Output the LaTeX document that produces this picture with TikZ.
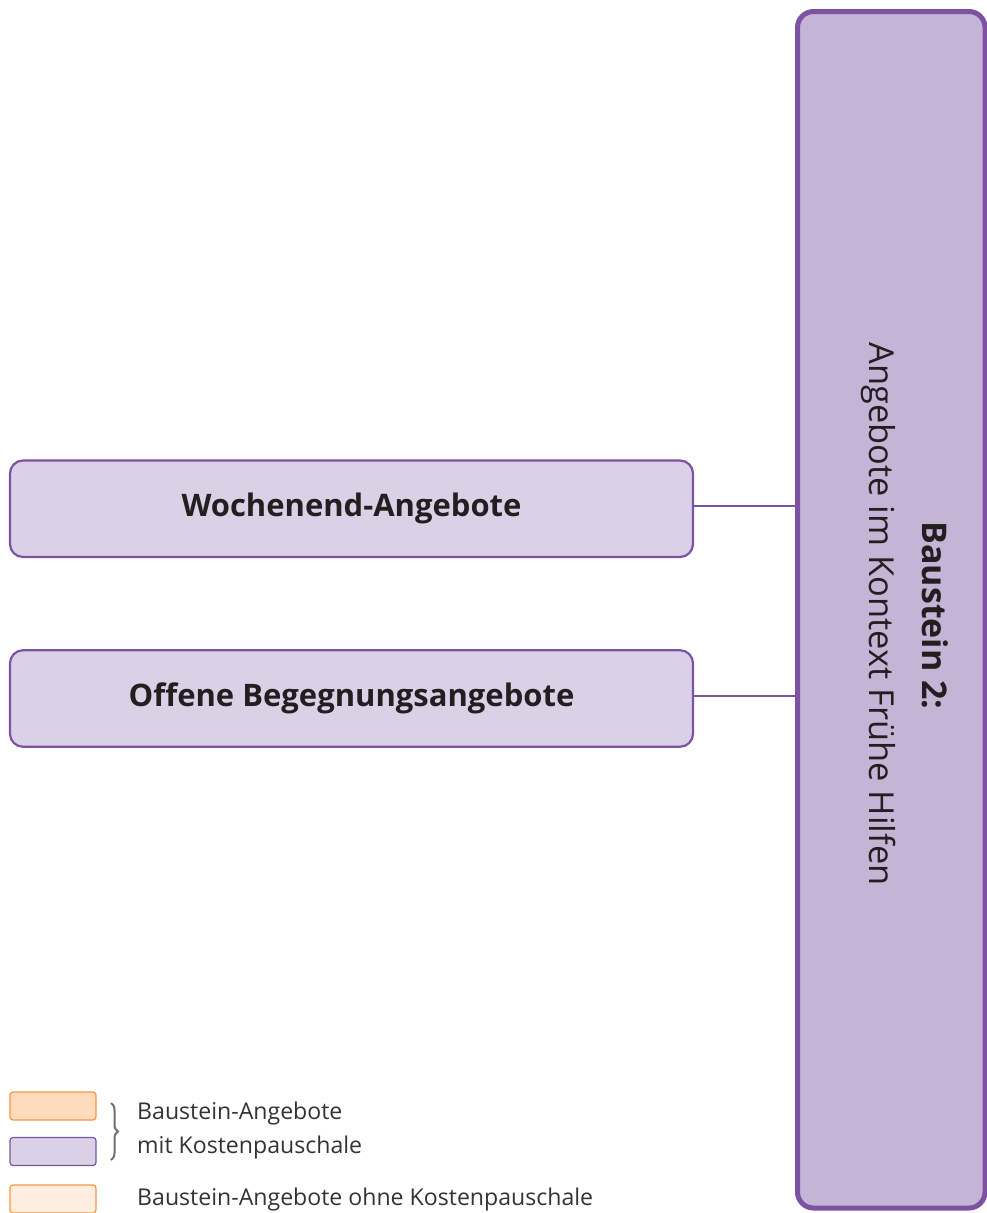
\documentclass[tikz,border=0pt]{standalone}
\usepackage{fontspec}
\setmainfont{Open Sans}
\usetikzlibrary{decorations.pathreplacing}
\definecolor{purpleline}{HTML}{7E52A3}
\definecolor{bigfill}{HTML}{C4B4D6}
\definecolor{smallfill}{HTML}{DAD1E7}
\definecolor{orangeline}{HTML}{F7963F}
\definecolor{orangefill}{HTML}{FDDABC}
\definecolor{lightorange}{HTML}{FEEEE0}
\definecolor{txt}{HTML}{231F20}
\definecolor{legtxt}{HTML}{333333}
\definecolor{bracegray}{HTML}{6D6E71}
\begin{document}
\begin{tikzpicture}[x=1pt,y=-1pt,
  bigbox/.style={draw=purpleline, fill=bigfill, line width=5pt, rounded corners=16pt, inner sep=0pt},
  offerbox/.style={draw=purpleline, fill=smallfill, line width=2.2pt, rounded corners=13pt, minimum width=683pt, minimum height=96.5pt, inner sep=0pt, font=\fontsize{31}{35}\selectfont\bfseries, text=txt},
  conn/.style={draw=purpleline, line width=2.2pt},
  legbox/.style={line width=1.2pt, rounded corners=3pt, minimum width=86pt, minimum height=28pt, inner sep=0pt},
  legtext/.style={font=\fontsize{23.1}{34}\selectfont, text=legtxt, anchor=base west, inner sep=0pt}
]
\useasboundingbox (0,0) rectangle (987,1213);
% big Baustein box
\node[bigbox, minimum width=187.5pt, minimum height=1196.5pt] (bs) at (891.25,609.75) {};
\node[rotate=-90, anchor=base, font=\fontsize{34}{38}\selectfont\bfseries, text=txt, inner sep=0pt] (bt) at (922,615.5) {Baustein 2:};
\node[rotate=-90, anchor=base, font=\fontsize{34.4}{38}\selectfont, text=txt, inner sep=0pt] (bsub) at (869,614) {Angebote im Kontext Frühe Hilfen};
% offer boxes
\node[offerbox] (w) at (351.5,508.75) {Wochenend-Angebote};
\node[offerbox] (o) at (351.5,698.5) {Offene Begegnungsangebote};
\draw[conn] ([yshift=2.5pt]w.east) -- ([yshift=2.5pt]w.east -| bs.west);
\draw[conn] ([yshift=2.5pt]o.east) -- ([yshift=2.5pt]o.east -| bs.west);
% legend
\node[legbox, draw=orangeline, fill=orangefill] (l1) at (53,1106) {};
\node[legbox, draw=purpleline, fill=smallfill] (l2) at (53,1151.5) {};
\node[legbox, draw=orangeline, fill=lightorange] (l3) at (53,1199) {};
\draw[bracegray, line width=2pt, decorate, decoration={brace, amplitude=7pt}] (111,1103) -- (111,1160);
\node[legtext] (lt1) at (137,1119) {Baustein-Angebote};
\node[legtext] (lt1b) at (137,1153) {mit Kostenpauschale};
\node[legtext] (lt2) at (137,1205) {Baustein-Angebote ohne Kostenpauschale};
\end{tikzpicture}
\end{document}
